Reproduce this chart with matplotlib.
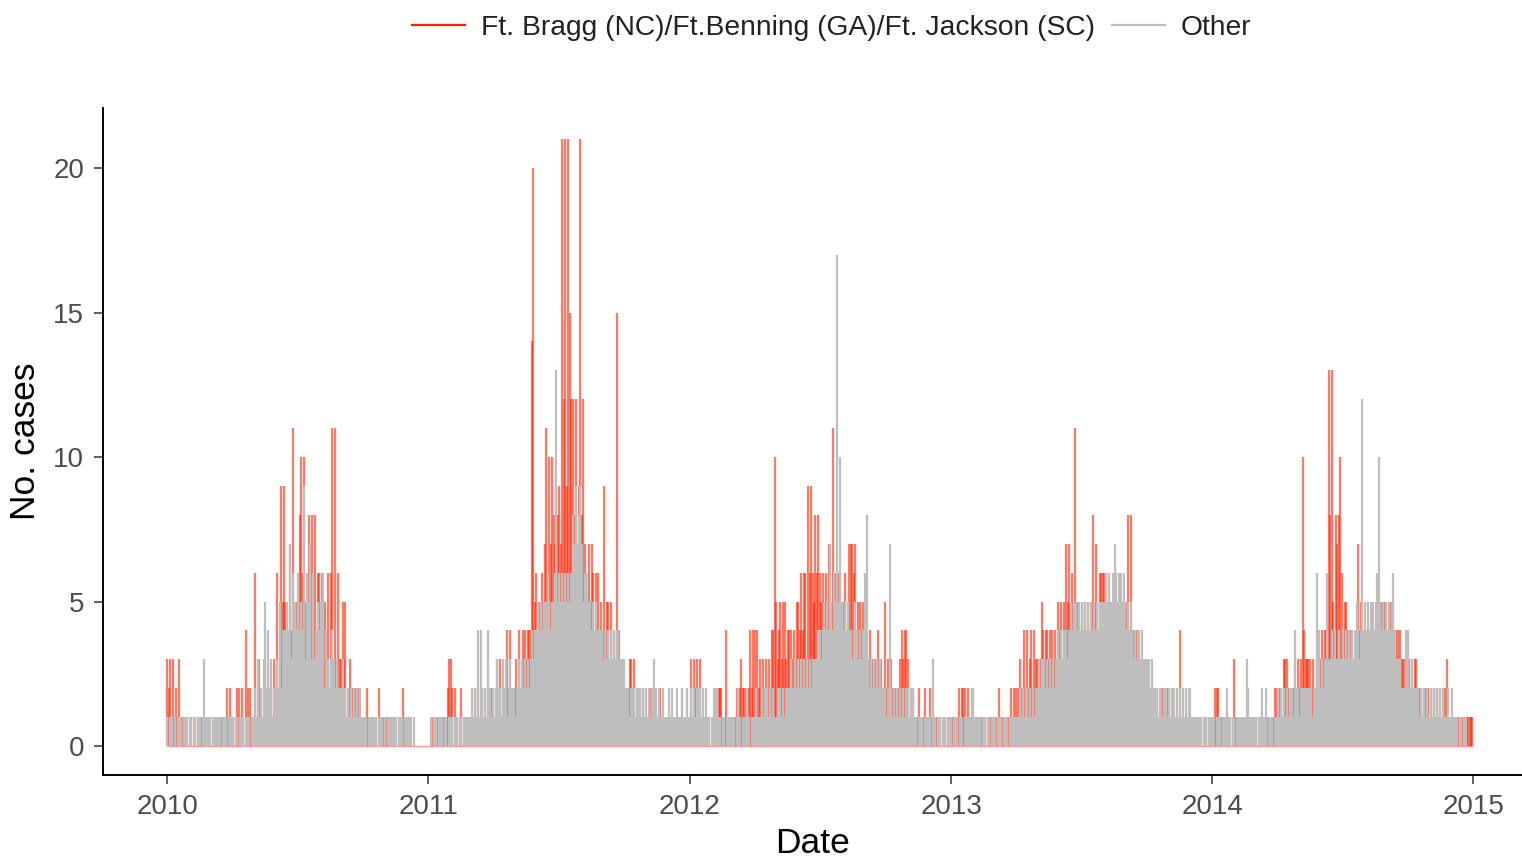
import numpy as np
import pandas as pd
import matplotlib
matplotlib.use("Agg")
import matplotlib.pyplot as plt
import matplotlib.dates as mdates
from matplotlib.lines import Line2D

# Daily case counts at ~2-day resolution.
# One string per month; each character is a count in base 36 ('a'=10 ... 'l'=21).
years = [2010, 2011, 2012, 2013, 2014]
series_labels = ["Ft. Bragg (NC)/Ft.Benning (GA)/Ft. Jackson (SC)", "Other"]

red_2010 = ["323031203010100", "010010100101001", "100100101010202", "010122021042120",
            "160230101031213", "262395953474b43", "538a6a548386846", "646353626b3b363",
            "353512312021201", "101201010102101", "010100101001020", "100100000000000000"]
gray_2010 = ["101101011101110", "110110111013101", "101110110111011", "110110111011101",
             "121312135242312", "232524345473645", "464549365736345", "453624323432322",
             "231212121212121", "111011101101110", "101110111011101", "110110100000000000"]

red_2011 = ["000100101010123", "320201012010101", "101202010120102", "102313121242412",
            "232423443444ek5", "6454657b6a7a879", "897lcl9lfcc8c79", "l8c765757646645",
            "4935535343f3423", "321233231212121", "101201010120101", "010100101001010100"]
gray_2011 = ["001011011101101", "110111011011101", "121214142121421", "212322132312322",
             "212323232323434", "45454545654556d", "565656565687978", "975656554545444",
             "434343434344333", "322212221222121", "212121321211211", "121121112111211121"]

red_2012 = ["031323130101010", "010102220141010", "101212322212424", "42423231323144a",
            "534535534443435", "546466396965868", "656565765b66566", "456457776745545",
            "323242323242321", "523232121234344", "312121012101210", "121010101001010101"]
gray_2012 = ["121212221212110", "112221101101110", "110121011121011", "121112121212121",
             "121212122232232", "323232323232334", "434545475465h5a", "545454434543434",
             "368323232323222", "212721212121212", "212121101110111", "110311011101110110"]

red_2013 = ["010102122212001", "010100101001010", "101020101010212", "212321424234243",
            "323543443443435", "45354757564b554", "454545458575466", "664545345443454",
            "358483434332323", "121210121012102", "210101014101010", "010100101001010100"]
gray_2013 = ["101110110111012", "210111011101101", "110111011101111", "111212122121212",
             "232323232323234", "343434345454545", "454545454545455", "556565567656656",
             "545454343443433", "323232221221221", "212121212121212", "211011101101110111"]

red_2014 = ["012220101010101", "310101001010101", "010101010101012", "212203332121212",
            "323a43333232232", "343443d8d54878a", "645543433347454", "344343434344555",
            "545545344343333", "232323322212212", "121212121012310", "010100101101111111"]
gray_2014 = ["110111011121101", "101110111321101", "110112112011101", "121212121212142",
             "212222122212264", "232326334343343", "34343434345434c", "4545455456a5454",
             "545456433232224", "422322221212121", "121212121211121", "121011011010100000"]

red_by_year = [red_2010, red_2011, red_2012, red_2013, red_2014]
gray_by_year = [gray_2010, gray_2011, gray_2012, gray_2013, gray_2014]


def expand(year_list, month_lists):
    xs, ys = [], []
    for year, months in zip(year_list, month_lists):
        for m, s in enumerate(months, start=1):
            start = pd.Timestamp(year, m, 1)
            ndays = start.days_in_month
            for j, c in enumerate(s):
                xs.append(start + pd.Timedelta(days=j * ndays / len(s)))
                ys.append(int(c, 36))
    return pd.to_datetime(xs), np.array(ys)


red_x, red_y = expand(years, red_by_year)
gray_x, gray_y = expand(years, gray_by_year)

plt.rcParams['font.family'] = ['Liberation Sans', 'DejaVu Sans']

fig = plt.figure(figsize=(15.22, 8.61), dpi=100)
ax = fig.add_axes([0.0677, 0.0999, 0.9323, 0.7747])

red_col = '#ff2200'
gray_col = '#bebebe'
# thin baseline of the red series
ax.plot(red_x, np.zeros(len(red_x)), color=red_col, alpha=0.45, lw=1.0)
ax.vlines(red_x, 0, red_y, color=red_col, alpha=0.6, lw=1.6)
ax.vlines(gray_x, 0, gray_y, color=gray_col, alpha=1.0, lw=1.6)

ax.set_xlim(pd.Timestamp('2009-10-03'), pd.Timestamp('2015-03-10'))
ax.set_ylim(-1.0, 22.08)
ax.set_yticks([0, 5, 10, 15, 20])
ax.xaxis.set_major_locator(mdates.YearLocator())
ax.xaxis.set_major_formatter(mdates.DateFormatter('%Y'))

for side in ['top', 'right']:
    ax.spines[side].set_visible(False)
for side in ['left', 'bottom']:
    ax.spines[side].set_linewidth(1.4)
    ax.spines[side].set_color('black')

ax.tick_params(axis='both', length=6.5, width=1.1, color='#333333',
               labelsize=20, labelcolor='#4d4d4d', pad=7)

ax.set_xlabel('Date', fontsize=25.5, color='black', labelpad=5)
ax.set_ylabel('No. cases', fontsize=25.5, color='black', labelpad=8)

handles = [Line2D([0], [0], color='#ff2200', lw=1.6),
           Line2D([0], [0], color=gray_col, lw=1.6)]
fig.legend(handles, series_labels, loc='center', bbox_to_anchor=(0.5463, 0.968),
           ncol=2, frameon=False, fontsize=20.3, handlelength=1.9,
           handletextpad=0.55, columnspacing=0.6, labelcolor='#222222')

fig.savefig('out.png', dpi=100)
